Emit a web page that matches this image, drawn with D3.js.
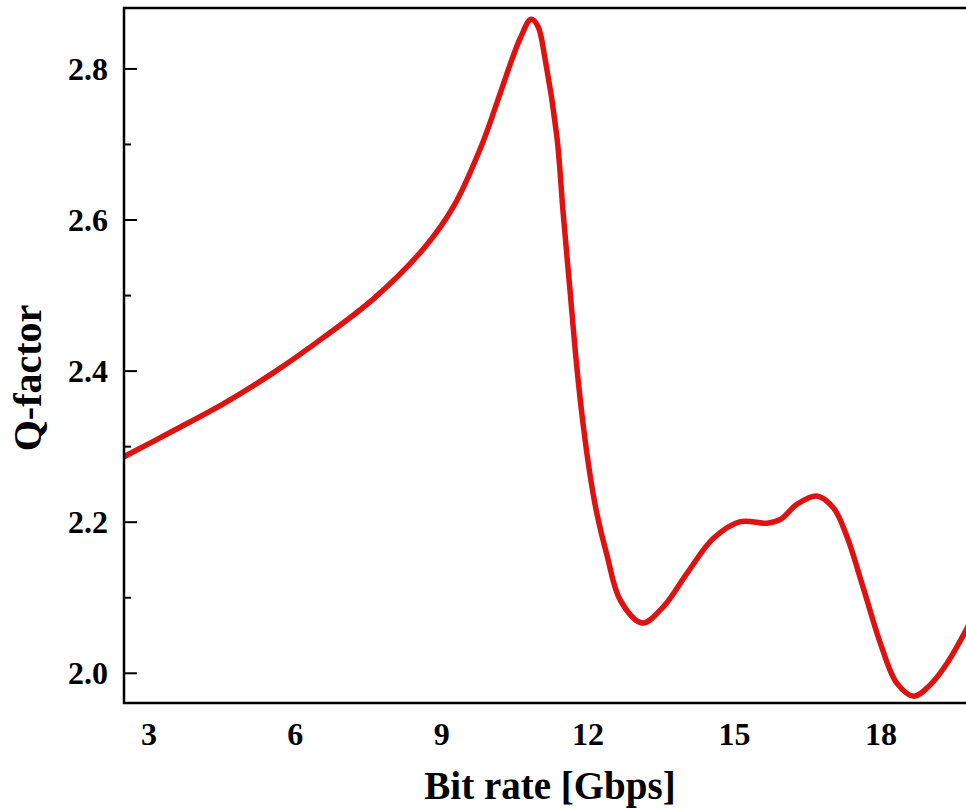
<!DOCTYPE html>
<html>
<head>
<meta charset="utf-8">
<script src="https://cdn.jsdelivr.net/npm/d3@7"></script>
<style>
  html, body { margin: 0; padding: 0; background: #fff; }
  svg { display: block; }
  text { font-family: "Liberation Serif", "Times New Roman", serif; font-weight: bold; fill: #000; }
</style>
</head>
<body>
<svg id="chart" width="966" height="808"></svg>
<script>
// Q-factor against bit rate
const bitRate = [2.5, 3.53, 4.56, 5.58, 6.61, 7.63, 8.66, 9.26, 9.84, 10.15, 10.45, 10.62,
  10.84, 10.98, 11.13, 11.37, 11.50, 11.64, 11.78, 11.91, 12.05, 12.18, 12.40, 12.67,
  13.12, 13.56, 14.04, 14.58, 15.13, 15.68, 15.95, 16.29, 16.70, 17.04, 17.31, 17.66,
  18.0, 18.34, 18.69, 19.02, 19.37, 19.76, 20.0];
const qFactor = [2.286, 2.321, 2.357, 2.398, 2.445, 2.496, 2.563, 2.618, 2.700, 2.756, 2.812, 2.840,
  2.865, 2.856, 2.812, 2.710, 2.608, 2.506, 2.404, 2.328, 2.262, 2.214, 2.155, 2.096,
  2.066, 2.088, 2.132, 2.178, 2.200, 2.198, 2.203, 2.223, 2.234, 2.218, 2.181, 2.110,
  2.039, 1.986, 1.969, 1.984, 2.013, 2.057, 2.088];

const xTicks = [3, 6, 9, 12, 15, 18];
const yMajorTicks = [2.0, 2.2, 2.4, 2.6, 2.8];
const yMinorTicks = [2.1, 2.3, 2.5, 2.7];
const xDomain = [2.5, 20];
const yDomain = [1.96, 2.88];

const svg = d3.select("#chart");
const plotLeft = 124, plotTop = 8, plotBottom = 703;
const plotRight = plotLeft + (xDomain[1] - xDomain[0]) * 48.8;

const x = d3.scaleLinear().domain(xDomain).range([plotLeft, plotRight]);
const y = d3.scaleLinear().domain(yDomain).range([plotBottom, plotTop]);

svg.append("defs").append("clipPath").attr("id", "plot-clip")
  .append("rect").attr("x", plotLeft).attr("y", plotTop)
  .attr("width", plotRight - plotLeft).attr("height", plotBottom - plotTop);

// data line
const line = d3.line()
  .x((d, i) => x(bitRate[i]))
  .y(d => y(d))
  .curve(d3.curveCatmullRom.alpha(0.5));

svg.append("path")
  .datum(qFactor)
  .attr("clip-path", "url(#plot-clip)")
  .attr("fill", "none")
  .attr("stroke", "#df1212")
  .attr("stroke-width", 5.5)
  .attr("stroke-linejoin", "round")
  .attr("d", line);

// minor y ticks
svg.append("g")
  .attr("transform", `translate(${plotLeft},0)`)
  .call(d3.axisLeft(y).tickValues(yMinorTicks).tickSizeInner(-7).tickSizeOuter(0).tickFormat(""))
  .call(g => g.select(".domain").remove())
  .call(g => g.selectAll("line").attr("stroke", "#000").attr("stroke-width", 2));

// major y ticks
svg.append("g")
  .attr("transform", `translate(${plotLeft},0)`)
  .call(d3.axisLeft(y).tickValues(yMajorTicks).tickSizeInner(-13).tickSizeOuter(0)
    .tickPadding(16).tickFormat(d3.format(".1f")))
  .call(g => g.select(".domain").remove())
  .call(g => g.selectAll("line").attr("stroke", "#000").attr("stroke-width", 2))
  .call(g => g.selectAll("text").attr("font-size", 32).attr("dy", "0.34em"));

// x axis labels
svg.append("g")
  .attr("transform", `translate(0,${plotBottom})`)
  .call(d3.axisBottom(x).tickValues(xTicks).tickSize(0).tickPadding(0))
  .call(g => g.select(".domain").remove())
  .call(g => g.selectAll("line").remove())
  .call(g => g.selectAll("text").attr("font-size", 32).attr("y", 42).attr("dy", 0));

// frame
svg.append("rect")
  .attr("x", plotLeft).attr("y", plotTop)
  .attr("width", plotRight - plotLeft).attr("height", plotBottom - plotTop)
  .attr("fill", "none").attr("stroke", "#000").attr("stroke-width", 2.5);

// axis titles
svg.append("text")
  .attr("x", 550).attr("y", 799)
  .attr("text-anchor", "middle")
  .attr("font-size", 39)
  .text("Bit rate [Gbps]");

svg.append("text")
  .attr("transform", "translate(41,378) rotate(-90)")
  .attr("text-anchor", "middle")
  .attr("font-size", 40)
  .text("Q-factor");
</script>
</body>
</html>
